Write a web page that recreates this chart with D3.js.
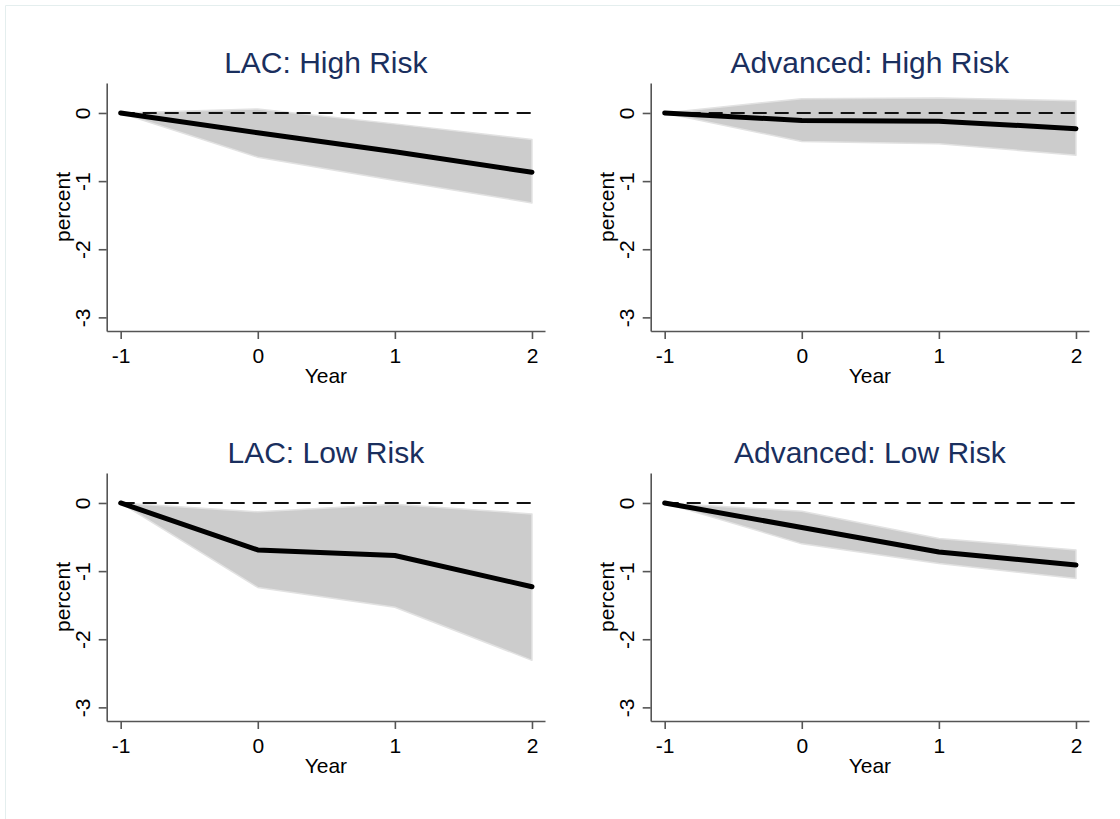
<!DOCTYPE html>
<html>
<head>
<meta charset="utf-8">
<script src="https://cdn.jsdelivr.net/npm/d3@7"></script>
<style>
  html, body { margin: 0; padding: 0; background: #fff; }
  svg { display: block; }
  text { font-family: Arial, "Liberation Sans", sans-serif; }
</style>
</head>
<body>
<svg id="chart" width="1120" height="819"></svg>
<script>
// ---- data ----
const years = [-1, 0, 1, 2];
const yTicks = [0, -1, -2, -3];
const xTicks = [-1, 0, 1, 2];

const titles = ["LAC: High Risk", "Advanced: High Risk", "LAC: Low Risk", "Advanced: Low Risk"];

const lacHighEst   = [0, -0.29, -0.57, -0.87];
const lacHighUpper = [0, 0.06, -0.16, -0.39];
const lacHighLower = [0, -0.65, -0.99, -1.32];

const advHighEst   = [0, -0.11, -0.12, -0.23];
const advHighUpper = [0, 0.21, 0.22, 0.18];
const advHighLower = [0, -0.42, -0.45, -0.62];

const lacLowEst    = [0, -0.69, -0.77, -1.23];
const lacLowUpper  = [0, -0.13, -0.02, -0.16];
const lacLowLower  = [0, -1.24, -1.53, -2.31];

const advLowEst    = [0, -0.36, -0.72, -0.91];
const advLowUpper  = [0, -0.12, -0.52, -0.69];
const advLowLower  = [0, -0.60, -0.89, -1.11];

const zeroLine = [0, 0, 0, 0];

const panels = [
  { title: titles[0], est: lacHighEst, up: lacHighUpper, lo: lacHighLower, col: 0, row: 0 },
  { title: titles[1], est: advHighEst, up: advHighUpper, lo: advHighLower, col: 1, row: 0 },
  { title: titles[2], est: lacLowEst,  up: lacLowUpper,  lo: lacLowLower,  col: 0, row: 1 },
  { title: titles[3], est: advLowEst,  up: advLowUpper,  lo: advLowLower,  col: 1, row: 1 }
];

// ---- layout ----
const svg = d3.select("#chart");
const colOff = [0, 544];
const rowOff = [0, 390];
const axL = 106.7, axR = 545, axT = 83, axB = 331;
const small = 21;

// faint outer frame (top & left)
svg.append("line").attr("x1", 5.5).attr("x2", 1120).attr("y1", 5.5).attr("y2", 5.5)
  .attr("stroke", "#e4eeee").attr("stroke-width", 1);
svg.append("line").attr("x1", 5.5).attr("x2", 5.5).attr("y1", 5.5).attr("y2", 819)
  .attr("stroke", "#e4eeee").attr("stroke-width", 1);

const titleColor = "#1a2f5e";
const axisColor = "#555";

panels.forEach(p => {
  const dx = colOff[p.col], dy = rowOff[p.row];
  const g = svg.append("g").attr("transform", `translate(${dx},${dy})`);

  const x = d3.scaleLinear().domain([-1.102, 2.095]).range([axL, axR]);
  const y = d3.scaleLinear().domain([-3.2, 0.44]).range([axB, axT]);

  const rows = years.map((yr, i) => ({ yr, est: p.est[i], up: p.up[i], lo: p.lo[i], z: zeroLine[i] }));

  // band
  const area = d3.area().x(d => x(d.yr)).y0(d => y(d.lo)).y1(d => y(d.up));
  g.append("path").datum(rows).attr("d", area)
    .attr("fill", "#cccccc").attr("stroke", "#e2e2e2").attr("stroke-width", 1.5)
    .attr("stroke-linejoin", "round");

  // zero dashed line
  const zline = d3.line().x(d => x(d.yr)).y(d => y(d.z));
  g.append("path").datum(rows).attr("d", zline)
    .attr("fill", "none").attr("stroke", "#111").attr("stroke-width", 1.9)
    .attr("stroke-dasharray", "14,8");

  // estimate line
  const eline = d3.line().x(d => x(d.yr)).y(d => y(d.est));
  g.append("path").datum(rows).attr("d", eline)
    .attr("fill", "none").attr("stroke", "#000").attr("stroke-width", 5)
    .attr("stroke-linecap", "round").attr("stroke-linejoin", "round");

  // axes
  const yAxis = g.append("g").attr("transform", `translate(${axL},0)`)
    .call(d3.axisLeft(y).tickValues(yTicks).tickFormat(d3.format("d")).tickSize(8).tickSizeOuter(0));
  yAxis.selectAll("text")
    .attr("transform", "rotate(-90)").attr("x", 0).attr("y", -17).attr("dy", 0)
    .attr("text-anchor", "middle").attr("font-size", small).attr("fill", "#000");

  const xAxis = g.append("g").attr("transform", `translate(0,${axB})`)
    .call(d3.axisBottom(x).tickValues(xTicks).tickFormat(d3.format("d")).tickSize(8).tickPadding(9).tickSizeOuter(0));
  xAxis.selectAll("text").attr("font-size", small).attr("fill", "#000");

  [yAxis, xAxis].forEach(a => {
    a.attr("font-family", null);
    a.select(".domain").attr("stroke", axisColor).attr("stroke-width", 1.6);
    a.selectAll(".tick line").attr("stroke", axisColor).attr("stroke-width", 1.6);
  });
  // minus sign as hyphen like the original
  g.selectAll(".tick text").text(d => String(d));

  // axis titles
  g.append("text").attr("x", (axL + axR) / 2).attr("y", axB + 52)
    .attr("text-anchor", "middle").attr("font-size", small).attr("fill", "#000").text("Year");
  g.append("text").attr("transform", `translate(${axL - 37},${(axT + axB) / 2}) rotate(-90)`)
    .attr("text-anchor", "middle").attr("font-size", small).attr("fill", "#000").text("percent");

  // panel title
  g.append("text").attr("x", (axL + axR) / 2).attr("y", 73)
    .attr("text-anchor", "middle").attr("font-size", 30).attr("fill", titleColor).text(p.title);
});
</script>
</body>
</html>
